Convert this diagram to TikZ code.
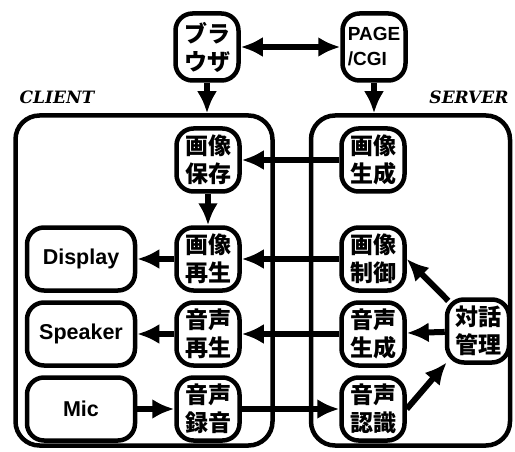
\documentclass[tikz,border=0pt]{standalone}
\usepackage{fontspec}
\usetikzlibrary{arrows.meta}
\newfontfamily\jpfont{Noto Sans CJK JP}
\newfontfamily\enfont{Liberation Sans}
\newfontfamily\lblfont{DejaVu Serif}
\tikzset{
  box/.style={draw, line width=4.5pt, rounded corners=17pt, minimum width=63pt,
    minimum height=63pt, inner sep=0pt, fill=white, align=center},
  widebox/.style={box, minimum width=108pt},
  area/.style={draw, line width=4.5pt, rounded corners=24pt, inner sep=0pt},
  jp/.style={font=\jpfont\bfseries\fontsize{23}{28}\selectfont},
  en/.style={font=\enfont\bfseries\fontsize{21.5}{25}\selectfont},
  lbl/.style={font=\lblfont\bfseries\itshape\fontsize{17}{19}\selectfont},
  arr/.style={line width=6pt, -{Latex[length=22pt,width=20pt]}},
  darr/.style={line width=6pt, {Latex[length=22pt,width=20pt]}-{Latex[length=22pt,width=20pt]}},
}
\begin{document}
\begin{tikzpicture}[x=1pt,y=-1pt]
\useasboundingbox (0,0) rectangle (515,452);
% areas
\node[area, minimum width=257pt, minimum height=330pt] (client) at (144,280.5) {};
\node[area, minimum width=199pt, minimum height=330pt] (server) at (410.5,280.5) {};
\node[lbl] (lc) at (57,97) {CLIENT};
\node[lbl] (ls) at (469,97) {SERVER};
% top
\node[box, jp, minimum height=67pt] (br) at (207,47) {ブラ\\ウザ};
\node[box, minimum height=67pt, font=\enfont\bfseries\fontsize{19}{25}\selectfont, align=left] (page) at (374,47) {PAGE\\/CGI};
% client
\node[box, jp] (hz) at (208,160) {画像\\保存};
\node[box, jp] (ps) at (208,259) {画像\\再生};
\node[box, jp] (as) at (208,334) {音声\\再生};
\node[box, jp] (ar) at (208,409) {音声\\録音};
\node[widebox, en] (disp) at (81,259) {Display};
\node[widebox, en] (spk) at (81,334) {Speaker};
\node[widebox, en] (mic) at (81,409) {Mic};
% server
\node[box, jp] (gs) at (373,160) {画像\\生成};
\node[box, jp] (gc) at (373,259) {画像\\制御};
\node[box, jp] (og) at (373,334) {音声\\生成};
\node[box, jp] (on) at (373,409) {音声\\認識};
\node[box, jp, minimum width=62pt] (tw) at (478,331) {対話\\管理};
% arrows
\draw[darr] (br) -- (page);
\draw[arr] (br.south) -- (br.south |- client.north);
\draw[arr] (page.south) -- (page.south |- server.north);
\draw[arr] (gs) -- (hz);
\draw[arr] (hz) -- (ps);
\draw[arr] (gc) -- (ps);
\draw[arr] (ps) -- (disp);
\draw[arr] (og) -- (as);
\draw[arr] (as) -- (spk);
\draw[arr] (mic) -- (ar);
\draw[arr] (ar) -- (on);
\draw[arr] (tw) -- (og);
\draw[arr, shorten <=-5pt] (tw.north west) -- (gc.east);
\draw[arr, shorten >=-3pt] (on.east) -- (tw.south west);
\end{tikzpicture}
\end{document}
